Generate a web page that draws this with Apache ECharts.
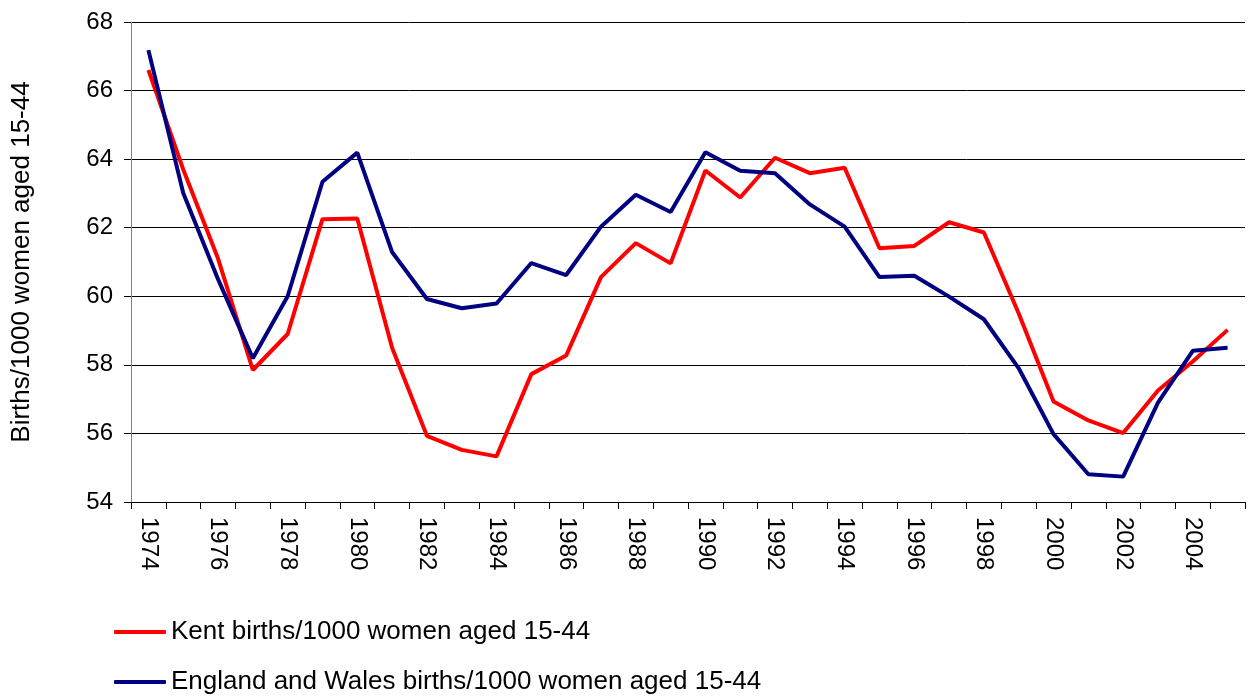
<!DOCTYPE html>
<html>
<head>
<meta charset="utf-8">
<script src="https://cdn.jsdelivr.net/npm/echarts@6/dist/echarts.min.js"></script>
<style>
  html, body { margin: 0; padding: 0; background: #fff; }
  #chart { width: 1251px; height: 698px; }
</style>
</head>
<body>
<div id="chart"></div>
<script>
// years on the x axis
const years = [];
for (let y = 1974; y <= 2005; y++) years.push(String(y));

// births per 1000 women aged 15-44
const kent = [66.6, 63.7, 61.1, 57.85, 58.9, 62.25, 62.27, 58.5, 55.93, 55.52,
  55.33, 57.73, 58.27, 60.56, 61.55, 60.96, 63.67, 62.88, 64.04, 63.59,
  63.75, 61.4, 61.47, 62.16, 61.86, 59.5, 56.93, 56.38, 56.01, 57.25,
  58.1, 59.02];
const englandWales = [67.18, 63.01, 60.5, 58.19, 60.0, 63.34, 64.19, 61.29, 59.92, 59.65,
  59.79, 60.97, 60.62, 62.03, 62.96, 62.46, 64.2, 63.66, 63.59, 62.68,
  62.03, 60.56, 60.6, 59.99, 59.33, 57.9, 55.98, 54.81, 54.74, 56.9,
  58.41, 58.5];

const seriesNames = ['Kent births/1000 women aged 15-44', 'England and Wales births/1000 women aged 15-44'];

const font = 'Liberation Sans, Arial, sans-serif';
const chart = echarts.init(document.getElementById('chart'));

chart.setOption({
  animation: false,
  grid: { left: 131, right: 6, top: 22, bottom: 196 },
  legend: {
    orient: 'vertical',
    left: 114,
    top: 619,
    padding: 0,
    itemGap: 24,
    itemWidth: 52,
    itemHeight: 4,
    icon: 'roundRect',
    textStyle: { fontFamily: font, fontSize: 26, color: '#000' },
    data: seriesNames
  },
  xAxis: {
    type: 'category',
    data: years,
    boundaryGap: true,
    axisLine: { lineStyle: { color: '#000', width: 1 } },
    axisTick: { show: true, interval: 0, length: 7, inside: false, lineStyle: { color: '#000' } },
    axisLabel: {
      interval: 1,
      rotate: -90,
      margin: 15,
      fontFamily: font,
      fontSize: 24,
      color: '#000'
    }
  },
  yAxis: {
    type: 'value',
    min: 54,
    max: 68,
    interval: 2,
    name: 'Births/1000 women aged 15-44',
    nameLocation: 'middle',
    nameGap: 96,
    nameTextStyle: { fontFamily: font, fontSize: 26, color: '#000' },
    axisLine: { show: true, lineStyle: { color: '#808080', width: 1 } },
    axisTick: { show: true, length: 7, lineStyle: { color: '#000' } },
    axisLabel: { margin: 18, fontFamily: font, fontSize: 24, color: '#000' },
    splitLine: { show: true, lineStyle: { color: '#000', width: 1 } }
  },
  series: [
    {
      name: seriesNames[0],
      type: 'line',
      data: kent,
      symbol: 'none',
      lineStyle: { color: '#ff0000', width: 4 },
      itemStyle: { color: '#ff0000' }
    },
    {
      name: seriesNames[1],
      type: 'line',
      data: englandWales,
      symbol: 'none',
      lineStyle: { color: '#000080', width: 4 },
      itemStyle: { color: '#000080' }
    }
  ]
});
</script>
</body>
</html>
